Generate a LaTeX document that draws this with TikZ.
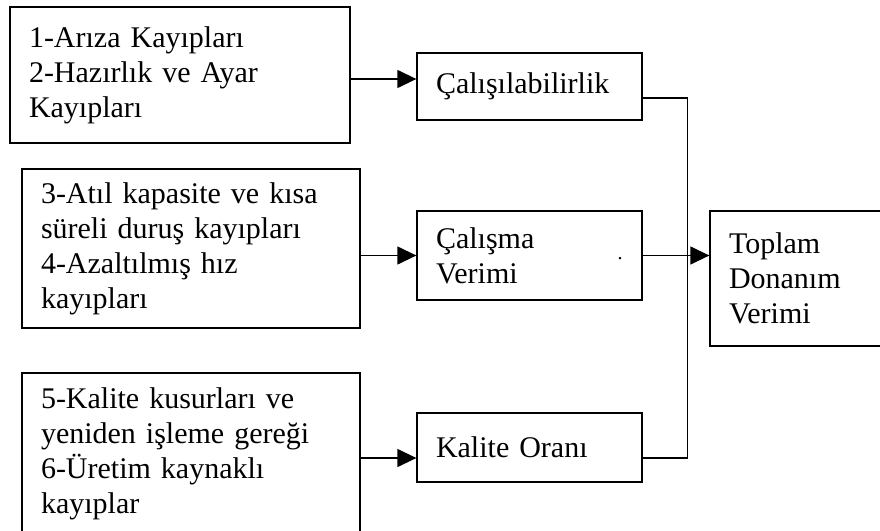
\documentclass[tikz,border=0pt]{standalone}
\usepackage{fontspec}
\setmainfont{Liberation Serif}
\usetikzlibrary{arrows.meta}

\tikzset{
  box/.style={draw, line width=1.3pt, inner xsep=19pt, inner ysep=0pt,
    align=left, font=\fontsize{30}{35}\selectfont},
  link/.style={line width=1.3pt},
  flow/.style={link, -{Triangle[length=19pt,width=18pt]}},
}

\begin{document}
\begin{tikzpicture}[x=1pt,y=-1pt]
  \useasboundingbox (0,0) rectangle (880,530);
  \clip (0,0) rectangle (880,530);
  % loss groups
  \node[box, text width=302pt, minimum height=136pt] (ariza) at (180,75)
    {1-Arıza Kayıpları\\2-Hazırlık ve Ayar\\Kayıpları};
  \node[box, text width=300pt, minimum height=159pt] (durus) at (191,248.5)
    {3-Atıl kapasite ve kısa\\süreli duruş kayıpları\\4-Azaltılmış hız\\kayıpları};
  \node[box, text width=300pt, minimum height=162pt] (kusur) at (191,454)
    {5-Kalite kusurları ve\\yeniden işleme gereği\\6-Üretim kaynaklı\\kayıplar};
  % rates
  \node[box, text width=187pt, minimum height=67pt] (avail) at (529.5,86.5)
    {Çalışılabilirlik};
  \node[box, text width=187pt, minimum height=89pt] (perf) at (529.5,255.5)
    {Çalışma\\Verimi};
  \node[box, text width=187pt, minimum height=69pt] (qual) at (529.5,447.5)
    {Kalite Oranı};
  \node[font=\fontsize{20}{24}\selectfont, inner sep=0pt] (dot) at (620,259) {.};
  % result
  \node[box, text width=138pt, minimum height=135pt] (oee) at (798,278.5)
    {Toplam\\Donanım\\Verimi};

  \coordinate (availin) at ([yshift=7.5pt]avail.west);
  \coordinate (qualin) at ([yshift=-10.5pt]qual.west);
  \coordinate (availout) at ([yshift=-11.5pt]avail.east);
  \coordinate (qualout) at ([yshift=-10.5pt]qual.east);
  \coordinate (bus) at ([xshift=-22pt]oee.west);

  \draw[flow] (ariza.east |- availin) -- (availin);
  \draw[flow] (durus.east |- perf.west) -- (perf.west);
  \draw[flow] (kusur.east |- qualin) -- (qualin);

  \draw[link] (availout) -| (bus |- perf.east);
  \draw[link] (qualout) -| (bus |- perf.east);
  \draw[flow] (perf.east) -- (oee.west |- perf.east);
\end{tikzpicture}
\end{document}
